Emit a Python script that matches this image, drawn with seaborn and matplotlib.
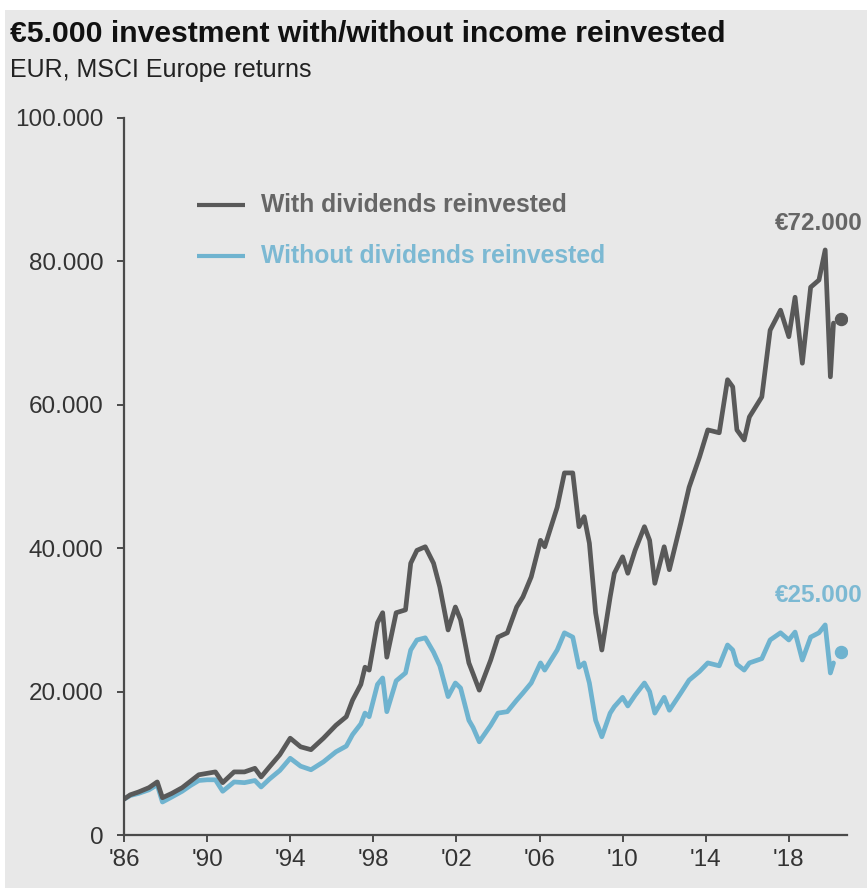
import numpy as np
import pandas as pd
import matplotlib
matplotlib.use("Agg")
import matplotlib.pyplot as plt
from matplotlib.patches import Rectangle
import seaborn as sns

# ---- data (values in thousands of EUR) ----
years_with = [1986.0, 1986.3, 1986.7, 1987.2, 1987.6, 1987.85, 1988.3, 1988.8, 1989.2, 1989.6,
              1990.0, 1990.4, 1990.75, 1991.3, 1991.8, 1992.3, 1992.6, 1993.0, 1993.5, 1994.0,
              1994.5, 1995.0, 1995.6, 1996.2, 1996.7, 1997.0, 1997.4, 1997.6, 1997.8, 1998.2,
              1998.45, 1998.65, 1999.1, 1999.55, 1999.8, 2000.1, 2000.5, 2000.9, 2001.2, 2001.6,
              2001.95, 2002.2, 2002.6, 2002.8, 2003.1, 2003.65, 2004.0, 2004.45, 2004.9, 2005.2,
              2005.6, 2006.05, 2006.25, 2006.85, 2007.2, 2007.6, 2007.9, 2008.15, 2008.4, 2008.7,
              2009.0, 2009.4, 2009.6, 2010.0, 2010.25, 2010.6, 2011.05, 2011.3, 2011.55, 2012.0,
              2012.25, 2012.8, 2013.2, 2013.7, 2014.1, 2014.65, 2015.05, 2015.3, 2015.5, 2015.85,
              2016.1, 2016.7, 2017.1, 2017.6, 2018.0, 2018.3, 2018.65, 2019.05, 2019.45, 2019.75,
              2020.0, 2020.15]
with_div = [5.0, 5.6, 6.0, 6.6, 7.4, 5.2, 5.8, 6.6, 7.5, 8.4,
            8.6, 8.8, 7.3, 8.8, 8.8, 9.3, 8.1, 9.5, 11.2, 13.5,
            12.3, 11.9, 13.5, 15.3, 16.5, 18.8, 21.0, 23.4, 23.0, 29.6,
            31.0, 24.8, 31.0, 31.4, 37.9, 39.7, 40.2, 37.9, 34.6, 28.6,
            31.8, 30.0, 24.0, 22.5, 20.2, 24.4, 27.6, 28.2, 31.8, 33.2,
            36.0, 41.1, 40.2, 45.7, 50.5, 50.5, 43.0, 44.4, 40.7, 31.0,
            25.8, 33.2, 36.5, 38.8, 36.5, 39.7, 43.0, 41.1, 35.1, 40.2,
            37.0, 43.5, 48.5, 52.7, 56.5, 56.1, 63.5, 62.5, 56.5, 55.1,
            58.3, 61.1, 70.4, 73.2, 69.5, 75.0, 65.8, 76.4, 77.4, 81.6,
            63.9, 71.4]
without_div = [5.0, 5.5, 5.8, 6.3, 7.0, 4.6, 5.3, 6.1, 6.9, 7.6,
               7.7, 7.7, 6.1, 7.4, 7.3, 7.6, 6.7, 7.8, 9.0, 10.7,
               9.6, 9.1, 10.2, 11.6, 12.4, 14.0, 15.5, 17.0, 16.5, 21.0,
               21.9, 17.2, 21.5, 22.6, 25.8, 27.2, 27.5, 25.5, 23.6, 19.3,
               21.2, 20.5, 16.0, 15.0, 13.0, 15.3, 17.0, 17.2, 18.8, 19.8,
               21.2, 24.0, 23.0, 25.8, 28.2, 27.6, 23.4, 24.0, 21.2, 16.0,
               13.7, 17.0, 17.9, 19.2, 18.0, 19.5, 21.2, 20.0, 17.0, 19.2,
               17.4, 19.8, 21.6, 22.8, 24.0, 23.6, 26.5, 25.8, 23.8, 23.0,
               24.0, 24.6, 27.2, 28.2, 27.2, 28.3, 24.4, 27.6, 28.2, 29.3,
               22.6, 24.0]
end_year = 2020.5
end_with = 72.0
end_without = 25.5
series_names = ["With dividends reinvested", "Without dividends reinvested"]
end_labels = ["€72.000", "€25.000"]
y_ticks = [0, 20, 40, 60, 80, 100]
y_tick_labels = ["0", "20.000", "40.000", "60.000", "80.000", "100.000"]
x_ticks = [1986, 1990, 1994, 1998, 2002, 2006, 2010, 2014, 2018]
x_tick_labels = ["'86", "'90", "'94", "'98", "'02", "'06", "'10", "'14", "'18"]

DARK = "#595959"
LIGHT = "#6fb3cf"
DARK_TXT = "#666666"
LIGHT_TXT = "#7cb9d3"
BG = "#e8e8e8"

df = pd.concat([
    pd.DataFrame({"year": years_with, "value": with_div, "series": series_names[0]}),
    pd.DataFrame({"year": years_with, "value": without_div, "series": series_names[1]}),
])

sns.set_theme(style="white")
plt.rcParams["font.family"] = ["Liberation Sans", "DejaVu Sans"]

W, H = 867, 893
fig = plt.figure(figsize=(W / 100, H / 100), dpi=100, facecolor="white")
fig.patches.append(Rectangle((5 / W, 5 / H), 1 - 5 / W, 1 - 15 / H,
                             transform=fig.transFigure, facecolor=BG,
                             edgecolor="none", zorder=-10))
ax = fig.add_axes([124 / W, 1 - 835 / H, (847 - 124) / W, (835 - 118) / H])
ax.set_facecolor("none")

sns.lineplot(data=df, x="year", y="value", hue="series",
             palette={series_names[0]: DARK, series_names[1]: LIGHT},
             hue_order=series_names[::-1], linewidth=3.4, legend=False, ax=ax,
             estimator=None, sort=False)
ax.scatter([end_year], [end_with], s=75, color=DARK, zorder=5)
ax.scatter([end_year], [end_without], s=75, color=LIGHT, zorder=5)

ax.set_xlim(1986, 2020.8)
ax.set_ylim(0, 100)
ax.set_xticks(x_ticks)
ax.set_xticklabels(x_tick_labels)
ax.set_yticks(y_ticks)
ax.set_yticklabels(y_tick_labels)
ax.set_xlabel("")
ax.set_ylabel("")
for s in ["top", "right"]:
    ax.spines[s].set_visible(False)
for s in ["left", "bottom"]:
    ax.spines[s].set_color("#4a4a4a")
    ax.spines[s].set_linewidth(1.6)
ax.tick_params(axis="both", which="both", direction="out", length=5, width=1.4,
               color="#4a4a4a", labelsize=17.5, labelcolor="#333333", pad=4,
               left=True, bottom=True)
ax.tick_params(axis="x", pad=5)
ax.tick_params(axis="y", pad=10)

# legend (manual, text coloured by series)
ax.plot([1989.5, 1991.8], [87.8, 87.8], color=DARK, lw=3, solid_capstyle="butt")
ax.plot([1989.5, 1991.8], [80.8, 80.8], color=LIGHT, lw=3, solid_capstyle="butt")
ax.text(1992.6, 87.8, series_names[0], color=DARK_TXT, fontsize=17.8,
        fontweight="bold", va="center", ha="left")
ax.text(1992.6, 80.8, series_names[1], color=LIGHT_TXT, fontsize=17.8,
        fontweight="bold", va="center", ha="left")

# end labels
fig.text(863 / W, 1 - 224 / H, end_labels[0], color=DARK_TXT, fontsize=17.5,
         fontweight="bold", ha="right", va="center")
fig.text(863 / W, 1 - 595 / H, end_labels[1], color=LIGHT_TXT, fontsize=17.5,
         fontweight="bold", ha="right", va="center")

# titles
fig.text(10 / W, 1 - 34 / H, "€5.000 investment with/without income reinvested",
         fontsize=21.7, fontweight="bold", color="#111111", ha="left", va="center")
fig.text(10 / W, 1 - 70 / H, "EUR, MSCI Europe returns", fontsize=18,
         color="#222222", ha="left", va="center")

fig.savefig("out.png", dpi=100, facecolor="white")
